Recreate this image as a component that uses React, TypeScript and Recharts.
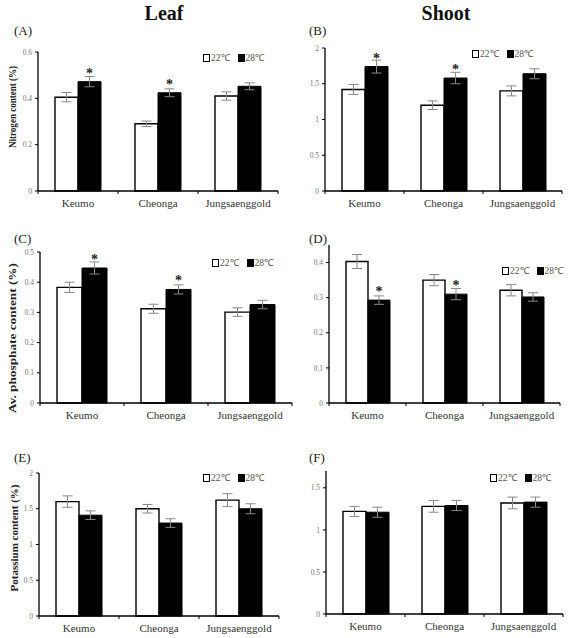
import React from "react";
import { Bar, BarChart, ErrorBar, LabelList, Legend, XAxis, YAxis } from "recharts";

const CULTIVARS = ["Keumo", "Cheonga", "Jungsaenggold"];
const TEMPS = ["22℃", "28℃"];

// (A) leaf nitrogen
const LEAF_N_22 = [0.405, 0.29, 0.41];
const LEAF_N_28 = [0.472, 0.424, 0.452];
const LEAF_N_ERR_22 = [0.02, 0.012, 0.018];
const LEAF_N_ERR_28 = [0.022, 0.017, 0.015];
const LEAF_N_SIG = [true, true, false];

// (B) shoot nitrogen
const SHOOT_N_22 = [1.42, 1.2, 1.4];
const SHOOT_N_28 = [1.74, 1.58, 1.64];
const SHOOT_N_ERR_22 = [0.07, 0.06, 0.07];
const SHOOT_N_ERR_28 = [0.09, 0.08, 0.07];
const SHOOT_N_SIG = [true, true, false];

// (C) leaf phosphate
const LEAF_P_22 = [0.383, 0.312, 0.301];
const LEAF_P_28 = [0.447, 0.376, 0.326];
const LEAF_P_ERR_22 = [0.017, 0.015, 0.014];
const LEAF_P_ERR_28 = [0.02, 0.015, 0.014];
const LEAF_P_SIG = [true, true, false];

// (D) shoot phosphate
const SHOOT_P_22 = [0.403, 0.35, 0.321];
const SHOOT_P_28 = [0.293, 0.31, 0.302];
const SHOOT_P_ERR_22 = [0.02, 0.016, 0.016];
const SHOOT_P_ERR_28 = [0.012, 0.016, 0.012];
const SHOOT_P_SIG = [true, true, false];

// (E) leaf potassium
const LEAF_K_22 = [1.6, 1.5, 1.62];
const LEAF_K_28 = [1.41, 1.3, 1.5];
const LEAF_K_ERR_22 = [0.08, 0.06, 0.09];
const LEAF_K_ERR_28 = [0.06, 0.06, 0.07];
const LEAF_K_SIG = [false, false, false];

// (F) shoot potassium
const SHOOT_K_22 = [1.22, 1.28, 1.32];
const SHOOT_K_28 = [1.21, 1.29, 1.33];
const SHOOT_K_ERR_22 = [0.06, 0.07, 0.07];
const SHOOT_K_ERR_28 = [0.06, 0.06, 0.06];
const SHOOT_K_SIG = [false, false, false];

const TICKS_N_LEAF = [0, 0.2, 0.4, 0.6];
const TICKS_TWO = [0, 0.5, 1, 1.5, 2];
const TICKS_P = [0, 0.1, 0.2, 0.3, 0.4, 0.5];
const TICKS_P_SHOOT = [0, 0.1, 0.2, 0.3, 0.4];
const TICKS_K_SHOOT = [0, 0.5, 1, 1.5];

const FONT = '"Liberation Serif", "Times New Roman", serif';

type Row = { name: string; t22: number; t28: number; e22: number; e28: number; sig: boolean };

function buildRows(v22: number[], v28: number[], e22: number[], e28: number[], sig: boolean[]): Row[] {
  return CULTIVARS.map((name, i) => ({ name, t22: v22[i], t28: v28[i], e22: e22[i], e28: e28[i], sig: sig[i] }));
}

type PanelSpec = {
  tag: string;
  rows: Row[];
  max: number;
  ticks: number[];
  plot: { left: number; right: number; top: number; bottom: number };
  barSize: number;
  legend: { x: number; y: number };
  tagPos: { x: number; y: number };
};

const PANELS: PanelSpec[] = [
  {
    tag: "(A)",
    rows: buildRows(LEAF_N_22, LEAF_N_28, LEAF_N_ERR_22, LEAF_N_ERR_28, LEAF_N_SIG),
    max: 0.6,
    ticks: TICKS_N_LEAF,
    plot: { left: 38, right: 278, top: 52, bottom: 191 },
    barSize: 23,
    legend: { x: 203, y: 57 },
    tagPos: { x: 14, y: 35 }
  },
  {
    tag: "(B)",
    rows: buildRows(SHOOT_N_22, SHOOT_N_28, SHOOT_N_ERR_22, SHOOT_N_ERR_28, SHOOT_N_SIG),
    max: 2,
    ticks: TICKS_TWO,
    plot: { left: 325, right: 562, top: 48, bottom: 191 },
    barSize: 23,
    legend: { x: 472, y: 53 },
    tagPos: { x: 309, y: 35 }
  },
  {
    tag: "(C)",
    rows: buildRows(LEAF_P_22, LEAF_P_28, LEAF_P_ERR_22, LEAF_P_ERR_28, LEAF_P_SIG),
    max: 0.5,
    ticks: TICKS_P,
    plot: { left: 40, right: 292, top: 252, bottom: 403 },
    barSize: 25,
    legend: { x: 212, y: 262 },
    tagPos: { x: 14, y: 243 }
  },
  {
    tag: "(D)",
    rows: buildRows(SHOOT_P_22, SHOOT_P_28, SHOOT_P_ERR_22, SHOOT_P_ERR_28, SHOOT_P_SIG),
    max: 0.45,
    ticks: TICKS_P_SHOOT,
    plot: { left: 329, right: 560, top: 245, bottom: 403 },
    barSize: 22,
    legend: { x: 502, y: 270 },
    tagPos: { x: 309, y: 243 }
  },
  {
    tag: "(E)",
    rows: buildRows(LEAF_K_22, LEAF_K_28, LEAF_K_ERR_22, LEAF_K_ERR_28, LEAF_K_SIG),
    max: 2,
    ticks: TICKS_TWO,
    plot: { left: 39, right: 279, top: 473, bottom: 616 },
    barSize: 23,
    legend: { x: 203, y: 477 },
    tagPos: { x: 14, y: 462 }
  },
  {
    tag: "(F)",
    rows: buildRows(SHOOT_K_22, SHOOT_K_28, SHOOT_K_ERR_22, SHOOT_K_ERR_28, SHOOT_K_SIG),
    max: 1.7,
    ticks: TICKS_K_SHOOT,
    plot: { left: 326, right: 563, top: 471, bottom: 614 },
    barSize: 23,
    legend: { x: 490, y: 477 },
    tagPos: { x: 309, y: 462 }
  }
];

const TITLES = [
  { text: "Leaf", x: 164, y: 20 },
  { text: "Shoot", x: 446, y: 20 }
];

const Y_LABELS = [
  { text: "Nitrogen content (%)", x: 12, y: 107, len: 82 },
  { text: "Av. phosphate content (%)", x: 12, y: 338, len: 150 },
  { text: "Potassium content (%)", x: 14, y: 538, len: 107 }
];

function TempLegend() {
  const box = (filled: boolean) => (
    <span
      style={{
        display: "inline-block",
        width: 5,
        height: 6,
        border: "1.4px solid #000",
        background: filled ? "#000" : "#fff",
        marginRight: 1
      }}
    />
  );
  return (
    <div style={{ display: "flex", alignItems: "center", fontFamily: FONT, fontSize: 9.5, color: "#555", whiteSpace: "nowrap" }}>
      {box(false)}
      <span style={{ marginRight: 8 }}>{TEMPS[0]}</span>
      {box(true)}
      <span>{TEMPS[1]}</span>
    </div>
  );
}

function Panel({ spec }: { spec: PanelSpec }) {
  const { plot } = spec;
  const yAxisW = 24;
  const mLeft = 6;
  const mTop = 14;
  const mRight = 8;
  const xAxisH = 24;
  const chartLeft = plot.left - yAxisW - mLeft;
  const chartTop = plot.top - mTop;
  const width = plot.right - chartLeft + mRight;
  const height = plot.bottom - chartTop + xAxisH;
  const band = (plot.right - plot.left) / CULTIVARS.length;

  const CategoryTick = (props: any) => {
    const { x, y, payload, index } = props;
    return (
      <g>
        <line x1={x - band / 2} x2={x - band / 2} y1={y} y2={y + 3} stroke="#000" strokeWidth={1} />
        {index === CULTIVARS.length - 1 && (
          <line x1={x + band / 2} x2={x + band / 2} y1={y} y2={y + 3} stroke="#000" strokeWidth={1} />
        )}
        <text x={x} y={y + 16} textAnchor="middle" fontSize={11} fill="#333" fontFamily={FONT}>
          {payload.value}
        </text>
      </g>
    );
  };

  const Star = (props: any) => {
    const { x, y, width: w, index } = props;
    if (!spec.rows[index]?.sig) return null;
    return (
      <text x={x + w / 2} y={y - 4} textAnchor="middle" fontSize={14} fontWeight="bold" fill="#222" fontFamily={FONT}>
        *
      </text>
    );
  };

  return (
    <div style={{ position: "absolute", left: chartLeft, top: chartTop }}>
      <BarChart
        width={width}
        height={height}
        data={spec.rows}
        margin={{ top: mTop, right: mRight, left: mLeft, bottom: 0 }}
        barGap={0}
      >
        <XAxis
          dataKey="name"
          height={xAxisH}
          interval={0}
          tickSize={0}
          tickMargin={0}
          tickLine={false}
          axisLine={{ stroke: "#000", strokeWidth: 1.3 }}
          tick={CategoryTick}
        />
        <YAxis
          type="number"
          width={yAxisW}
          domain={[0, spec.max]}
          ticks={spec.ticks}
          tickSize={3}
          tickMargin={3}
          axisLine={{ stroke: "#000", strokeWidth: 1.3 }}
          tickLine={{ stroke: "#000" }}
          tick={{ fontSize: 7.5, fill: "#777", fontFamily: FONT }}
        />
        <Legend
          layout="horizontal"
          verticalAlign="middle"
          align="center"
          wrapperStyle={{ position: "absolute", left: spec.legend.x - chartLeft, top: spec.legend.y - chartTop - 6, width: "auto" }}
          content={() => <TempLegend />}
        />
        <Bar dataKey="t22" fill="#fff" stroke="#000" strokeWidth={1.4} barSize={spec.barSize} isAnimationActive={false}>
          <ErrorBar dataKey="e22" width={5} stroke="#888" strokeWidth={1} />
        </Bar>
        <Bar dataKey="t28" fill="#000" stroke="#000" strokeWidth={1} barSize={spec.barSize} isAnimationActive={false}>
          <ErrorBar dataKey="e28" width={5} stroke="#888" strokeWidth={1} />
          <LabelList dataKey="t28" content={Star} />
        </Bar>
      </BarChart>
    </div>
  );
}

export default function App() {
  return (
    <div style={{ position: "absolute", left: 0, top: 0, width: 571, height: 638, background: "#fff", fontFamily: FONT, overflow: "hidden" }}>
      {PANELS.map((p) => (
        <Panel key={p.tag} spec={p} />
      ))}
      <svg width={571} height={638} style={{ position: "absolute", left: 0, top: 0, pointerEvents: "none" }}>
        {TITLES.map((t) => (
          <text key={t.text} x={t.x} y={t.y} textAnchor="middle" fontSize={20} fontWeight="bold" fill="#111" fontFamily={FONT}>
            {t.text}
          </text>
        ))}
        {PANELS.map((p) => (
          <text key={p.tag} x={p.tagPos.x} y={p.tagPos.y} fontSize={13} fill="#222" fontFamily={FONT}>
            {p.tag}
          </text>
        ))}
        {Y_LABELS.map((l) => (
          <text
            key={l.text}
            x={l.x}
            y={l.y}
            transform={`rotate(-90 ${l.x} ${l.y})`}
            textAnchor="middle"
            dominantBaseline="central"
            fontSize={10}
            fontWeight="bold"
            fill="#222"
            fontFamily={FONT}
            textLength={l.len}
            lengthAdjust="spacingAndGlyphs"
          >
            {l.text}
          </text>
        ))}
      </svg>
    </div>
  );
}
